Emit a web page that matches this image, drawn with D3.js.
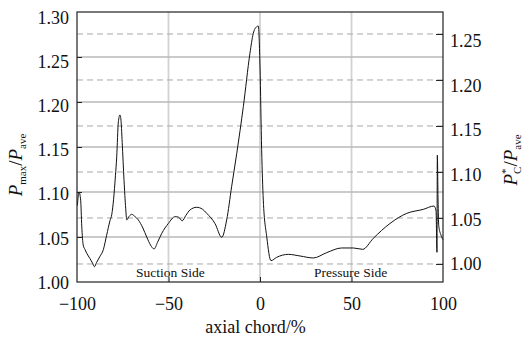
<!DOCTYPE html>
<html>
<head>
<meta charset="utf-8">
<script src="https://cdn.jsdelivr.net/npm/d3@7"></script>
<style>
  body { margin: 0; background: #fff; }
</style>
</head>
<body>
<svg id="chart" width="523" height="338"></svg>
<script>
// axial chord position (%) and Pmax/Pave
const chordPct = [-99.8, -98.9, -98.0, -97.4, -96.6, -95.6, -94.7, -92.9, -91.5, -90.5,
  -89.2, -87.6, -85.6, -83.8, -82.0, -81.0, -80.0, -79.0, -78.3, -77.4,
  -76.5, -75.9, -75.3, -74.3, -73.4, -72.8, -71.5, -70.1, -68.5, -66.5,
  -64.0, -61.9, -59.8, -57.9, -56.0, -53.7, -50.1, -46.4, -44.5, -42.5,
  -40.5, -38.3, -34.6, -31.5, -29.1, -24.6, -20.9, -18.2, -15.5, -12.7,
  -9.1, -5.5, -3.7, -1.8, -0.9, 0.0, 0.9, 1.8, 3.7, 6.0,
  9.1, 15.5, 21.9, 29.1, 36.4, 44.6, 51.0, 56.1, 61.9, 71.0,
  80.2, 89.2, 95.1, 96.2, 96.7, 96.9, 97.3, 97.65, 98.9, 100];
const pressureRatio = [1.085, 1.100, 1.091, 1.062, 1.041, 1.036, 1.032, 1.026, 1.021, 1.017,
  1.022, 1.028, 1.036, 1.052, 1.068, 1.075, 1.092, 1.118, 1.139, 1.178,
  1.1856, 1.178, 1.155, 1.113, 1.082, 1.069, 1.073, 1.0752, 1.073, 1.069,
  1.060, 1.050, 1.041, 1.0367, 1.044, 1.054, 1.065, 1.0726, 1.072, 1.068,
  1.074, 1.080, 1.083, 1.081, 1.0763, 1.065, 1.0497, 1.069, 1.106, 1.143,
  1.195, 1.254, 1.276, 1.2837, 1.2844, 1.239, 1.147, 1.091, 1.050, 1.0237,
  1.0274, 1.0307, 1.0289, 1.0267, 1.0326, 1.0378, 1.0378, 1.0363, 1.0485, 1.065,
  1.0763, 1.0807, 1.0844, 1.079, 1.033, 1.141, 1.091, 1.063, 1.052, 1.047];

const xTicks = [-100, -50, 0, 50, 100];
const leftTicks = [1.00, 1.05, 1.10, 1.15, 1.20, 1.25, 1.30];
const rightTicks = [1.00, 1.05, 1.10, 1.15, 1.20, 1.25];
const sideLabels = [{text: "Suction Side", x: -49}, {text: "Pressure Side", x: 49.5}];

const W = 523, H = 338;
const margin = {top: 12, right: 80, bottom: 56, left: 77};
const serif = "'Liberation Serif'";

const svg = d3.select("#chart");

const x = d3.scaleLinear().domain([-100, 100]).range([margin.left, W - margin.right]);
const yL = d3.scaleLinear().domain([1.00, 1.30]).range([H - margin.bottom, margin.top]);
const yR = d3.scaleLinear().domain([0.9804, 1.2739]).range([H - margin.bottom, margin.top]);

// grid
const grid = svg.append("g");
grid.selectAll("line.vgrid").data(xTicks.slice(1, -1)).join("line")
    .attr("class", "vgrid")
    .attr("x1", d => x(d)).attr("x2", d => x(d))
    .attr("y1", yL.range()[1]).attr("y2", yL.range()[0])
    .attr("stroke", "#d2d2d2").attr("stroke-width", 1.8);
grid.selectAll("line.hgrid").data(leftTicks.slice(1, -1)).join("line")
    .attr("class", "hgrid")
    .attr("x1", x(-100)).attr("x2", x(100))
    .attr("y1", d => yL(d)).attr("y2", d => yL(d))
    .attr("stroke", "#b9b9b9").attr("stroke-width", 1.6);
grid.selectAll("line.dgrid").data(rightTicks).join("line")
    .attr("class", "dgrid")
    .attr("x1", x(-100)).attr("x2", x(100))
    .attr("y1", d => yR(d)).attr("y2", d => yR(d))
    .attr("stroke", "#a8a8a8").attr("stroke-width", 1)
    .attr("stroke-dasharray", "6,4");

// side labels
svg.selectAll("text.side").data(sideLabels).join("text")
    .attr("class", "side")
    .attr("x", d => x(d.x))
    .attr("y", yL(1.00) - 5)
    .attr("text-anchor", "middle")
    .attr("font-family", serif)
    .attr("font-size", 13.5)
    .attr("fill", "#111")
    .text(d => d.text);

// curve
const line = d3.line()
    .x((d, i) => x(chordPct[i]))
    .y(d => yL(d))
    .curve(d3.curveMonotoneX);

svg.append("path")
    .datum(pressureRatio)
    .attr("d", line)
    .attr("fill", "none")
    .attr("stroke", "#111")
    .attr("stroke-width", 1);

// frame
svg.append("rect")
    .attr("x", x(-100)).attr("y", yL(1.30))
    .attr("width", x(100) - x(-100))
    .attr("height", yL(1.00) - yL(1.30))
    .attr("fill", "none")
    .attr("stroke", "#222")
    .attr("stroke-width", 1.2);

// axes (ticks point inward)
const fmt = d3.format(".2f");
const xAxis = svg.append("g")
    .attr("transform", "translate(0," + yL(1.00) + ")")
    .call(d3.axisBottom(x).tickValues(xTicks).tickSize(-5).tickPadding(15)
        .tickFormat(d => d < 0 ? "\u2212" + Math.abs(d) : d));
const leftAxis = svg.append("g")
    .attr("transform", "translate(" + x(-100) + ",0)")
    .call(d3.axisLeft(yL).tickValues(leftTicks).tickSize(-5).tickPadding(8).tickFormat(fmt));
leftAxis.selectAll(".tick text")
    .attr("transform", d => "translate(0," + ((yL(1.00) - yL(d)) * 0.0185 + 0.5) + ")");
const rightAxis = svg.append("g")
    .attr("transform", "translate(" + x(100) + ",0)")
    .call(d3.axisRight(yR).tickValues(rightTicks).tickSize(-7).tickPadding(7).tickFormat(fmt));
rightAxis.selectAll(".tick text")
    .attr("transform", d => "translate(0," + ((yR(1.00) - yR(d)) * 0.03) + ")");

[xAxis, leftAxis, rightAxis].forEach(a => {
    a.attr("font-family", null).attr("font-size", null);
    a.select(".domain").remove();
    a.selectAll(".tick line").attr("stroke", "#222");
    a.selectAll(".tick text")
        .attr("font-family", serif)
        .attr("font-size", 18)
        .attr("fill", "#111");
});
xAxis.selectAll(".tick").filter(d => d === -100 || d === 100).select("line").remove();
leftAxis.selectAll(".tick").filter(d => d === 1.00 || d === 1.30).select("line").remove();

// axis titles
svg.append("text")
    .attr("x", x(-2.5))
    .attr("y", 333)
    .attr("text-anchor", "middle")
    .attr("font-family", serif)
    .attr("font-size", 18)
    .attr("fill", "#111")
    .text("axial chord/%");

const leftTitle = svg.append("text")
    .attr("transform", "translate(22,165) rotate(-90)")
    .attr("text-anchor", "middle")
    .attr("font-family", serif)
    .attr("font-size", 19)
    .attr("fill", "#111");
leftTitle.append("tspan").attr("font-style", "italic").text("P");
leftTitle.append("tspan").attr("dy", 4).attr("font-size", 11).text("max");
leftTitle.append("tspan").attr("dy", -4).text("/");
leftTitle.append("tspan").attr("font-style", "italic").text("P");
leftTitle.append("tspan").attr("dy", 4).attr("font-size", 11).text("ave");

const rightTitle = svg.append("text")
    .attr("transform", "translate(517,160) rotate(-90)")
    .attr("text-anchor", "middle")
    .attr("font-family", serif)
    .attr("font-size", 19)
    .attr("fill", "#111");
rightTitle.append("tspan").attr("font-style", "italic").text("P");
rightTitle.append("tspan").attr("dy", -8).attr("font-size", 11).text("*");
rightTitle.append("tspan").attr("dx", -5.5).attr("dy", 12).attr("font-size", 11).text("C");
rightTitle.append("tspan").attr("dy", -4).text("/");
rightTitle.append("tspan").attr("font-style", "italic").text("P");
rightTitle.append("tspan").attr("dy", 4).attr("font-size", 11).text("ave");
</script>
</body>
</html>
